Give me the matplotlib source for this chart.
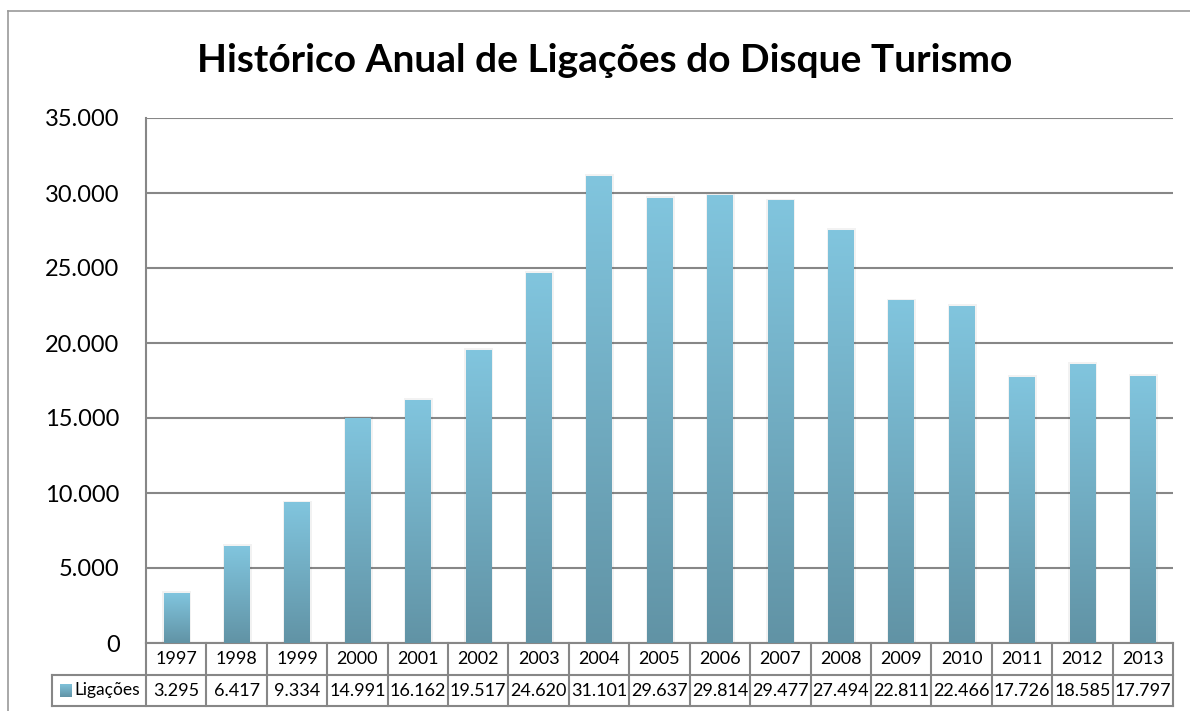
import numpy as np
import matplotlib
matplotlib.use("Agg")
import matplotlib.pyplot as plt
from matplotlib.colors import LinearSegmentedColormap
from matplotlib.lines import Line2D

years = ["1997", "1998", "1999", "2000", "2001", "2002", "2003", "2004", "2005",
         "2006", "2007", "2008", "2009", "2010", "2011", "2012", "2013"]
ligacoes = [3295, 6417, 9334, 14991, 16162, 19517, 24620, 31101, 29637,
            29814, 29477, 27494, 22811, 22466, 17726, 18585, 17797]
series_name = "Ligações"
title = "Histórico Anual de Ligações do Disque Turismo"


def fmt_br(v):
    return f"{int(v):,}".replace(",", ".")


plt.rcParams["font.family"] = ["Lato", "DejaVu Sans"]
grid_c = "#878787"
cmap = LinearSegmentedColormap.from_list("bar", ["#6193a5", "#81c5de"])
grad = np.linspace(0, 1, 256).reshape(-1, 1)

fig = plt.figure(figsize=(11.9, 7.11), dpi=100)
W, H = 1190, 711
ax = fig.add_axes([146 / W, 1 - 643 / H, (1173 - 146) / W, (643 - 118) / H])

# outer chart border
fig.add_artist(Line2D([8 / W, 8 / W], [0, 1 - 11 / H], color="#9a9a9a", lw=1.2))
fig.add_artist(Line2D([8 / W, 1], [1 - 11 / H, 1 - 11 / H], color="#9a9a9a", lw=1.2))

fig.text(0.508, 1 - 60 / H, title, ha="center", va="center",
         fontsize=28, fontweight="bold")

x = np.arange(len(years))
bw = 0.42
for xi, v in zip(x, ligacoes):
    ax.add_patch(plt.Rectangle((xi - bw / 2 - 0.02, 0), bw + 0.06, v + 150,
                               color="#000000", alpha=0.05, lw=0, zorder=2))
    ax.imshow(grad, cmap=cmap, origin="lower", aspect="auto",
              extent=[xi - bw / 2, xi + bw / 2, 0, v], zorder=3)

ax.set_xlim(-0.5, len(years) - 0.5)
ax.set_ylim(0, 35000)
ax.set_yticks(np.arange(0, 35001, 5000))
ax.set_yticklabels([fmt_br(t) for t in ax.get_yticks()], fontsize=17)
ax.set_xticks([])
ax.tick_params(axis="y", length=0, pad=19)
ax.yaxis.grid(True, color=grid_c, lw=1.5)
ax.set_axisbelow(True)
for s in ["top", "right", "bottom"]:
    ax.spines[s].set_visible(False)
ax.spines["left"].set_color(grid_c)
ax.spines["left"].set_linewidth(1.5)

# data table below the axis
tr = ax.get_xaxis_transform()
ah = 643 - 118
r1 = -32 / ah
r2 = -63 / ah
left_lbl = -0.5 - (146 - 52) / ((1173 - 146) / len(years))
right = len(years) - 0.5
tl = dict(color=grid_c, lw=1.5, transform=tr, clip_on=False)
ax.add_line(Line2D([-0.5, right], [0, 0], **tl))
ax.add_line(Line2D([left_lbl, right], [r1, r1], **tl))
ax.add_line(Line2D([left_lbl, right], [r2, r2], **tl))
ax.add_line(Line2D([left_lbl, left_lbl], [r1, r2], **tl))
for b in np.arange(-0.5, right + 0.01, 1):
    ax.add_line(Line2D([b, b], [0, r2], **tl))
for xi, yr, v in zip(x, years, ligacoes):
    ax.text(xi, r1 / 2, yr, transform=tr, ha="center", va="center", fontsize=13)
    ax.text(xi, (r1 + r2) / 2, fmt_br(v), transform=tr, ha="center", va="center",
            fontsize=13)
ax.text(-0.5 - 0.1, (r1 + r2) / 2, series_name, transform=tr, ha="right",
        va="center", fontsize=12.5)

lax = fig.add_axes([60 / W, 1 - 697 / H, 12 / W, 13 / H])
lax.imshow(grad, cmap=cmap, origin="lower", aspect="auto")
lax.axis("off")

fig.savefig("out.png", dpi=100)
